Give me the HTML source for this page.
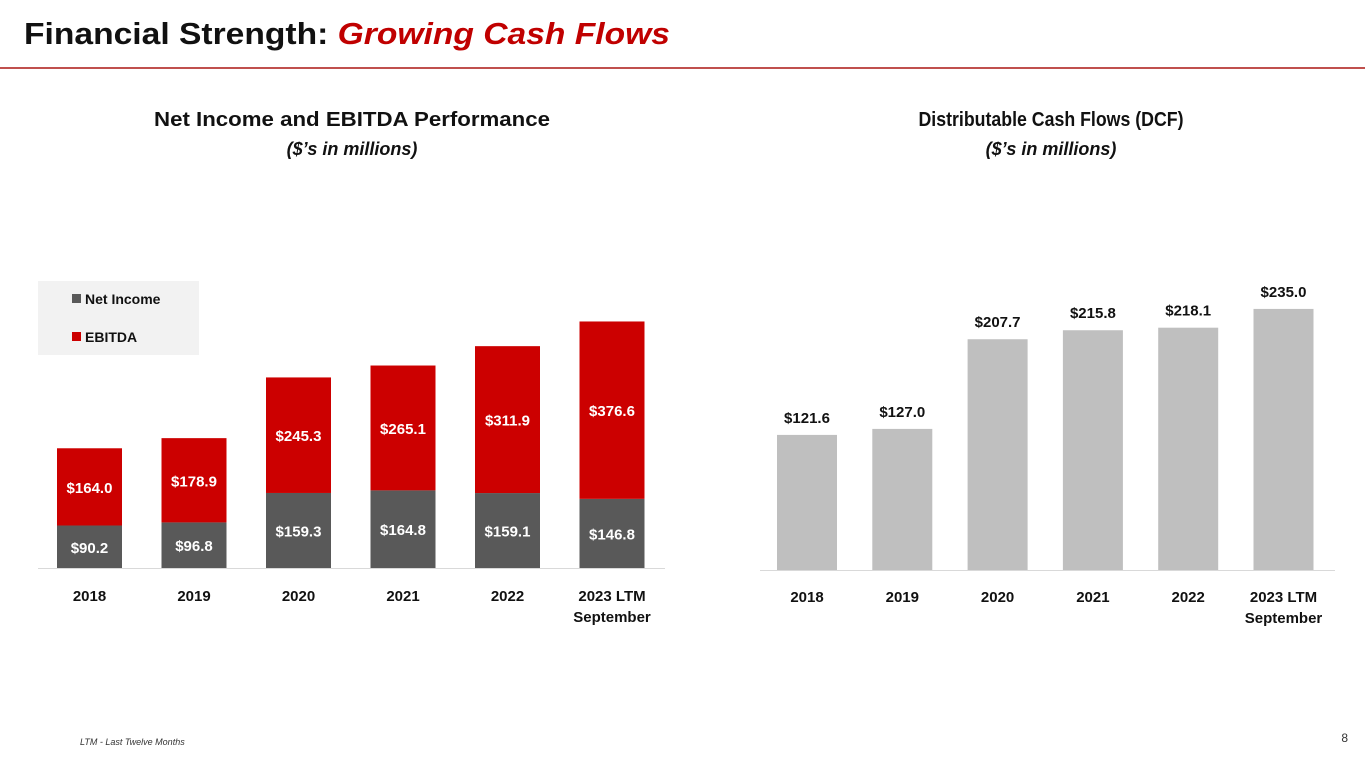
<!DOCTYPE html>
<html><head><meta charset="utf-8"><style>
body{margin:0;width:1365px;height:768px;background:#fff;overflow:hidden;font-family:"Liberation Sans",sans-serif}
svg{display:block}
</style></head><body>
<svg width="1365" height="768">
<text x="24" y="44" font-size="31" font-weight="bold" fill="#111" textLength="646" lengthAdjust="spacingAndGlyphs">Financial Strength: <tspan fill="#c00000" font-style="italic">Growing Cash Flows</tspan></text>
<rect x="0" y="67" width="1365" height="2" fill="#c0504d"/>
<text x="352" y="126" font-size="20" font-weight="bold" text-anchor="middle" fill="#111" textLength="396" lengthAdjust="spacingAndGlyphs">Net Income and EBITDA Performance</text>
<text x="352" y="155" font-size="18" font-weight="bold" font-style="italic" text-anchor="middle" fill="#111">($’s in millions)</text>
<text x="1051" y="126" font-size="20" font-weight="bold" text-anchor="middle" fill="#111" textLength="265" lengthAdjust="spacingAndGlyphs">Distributable Cash Flows (DCF)</text>
<text x="1051" y="155" font-size="18" font-weight="bold" font-style="italic" text-anchor="middle" fill="#111">($’s in millions)</text>
<rect x="38" y="281" width="161" height="74" fill="#f2f2f2"/>
<rect x="72" y="294" width="9" height="9" fill="#595959"/>
<text x="85" y="304" font-size="14" font-weight="bold" fill="#111">Net Income</text>
<rect x="72" y="332" width="9" height="9" fill="#cc0000"/>
<text x="85" y="342" font-size="14" font-weight="bold" fill="#111">EBITDA</text>
<g id="left"></g><g id="right"></g>
<text x="80" y="745" font-size="9" font-style="italic" fill="#333">LTM - Last Twelve Months</text>
<text x="1348" y="742" font-size="12" fill="#333" text-anchor="end">8</text>
</svg>
<script>
const categories=["2018","2019","2020","2021","2022","2023 LTM|September"];
const netIncome=[90.2,96.8,159.3,164.8,159.1,146.8];
const ebitda=[164.0,178.9,245.3,265.1,311.9,376.6];
const dcf=[121.6,127.0,207.7,215.8,218.1,235.0];
const NS="http://www.w3.org/2000/svg";
function mk(p,t,a){const e=document.createElementNS(NS,t);for(const k in a)e.setAttribute(k,a[k]);p.appendChild(e);return e;}
function lbl(p,x,y,s,c,fs){const t=mk(p,"text",{x:x,y:y,"font-size":fs,"font-weight":"bold","text-anchor":"middle",fill:c});t.textContent=s;return t;}
const L=document.getElementById("left");
const lBase=568,lScale=0.471,lX=i=>57+i*104.5,lW=65;
const ly=v=>lBase-v*lScale;
mk(L,"line",{x1:38,x2:665,y1:lBase+0.5,y2:lBase+0.5,stroke:"#d9d9d9"});
categories.forEach((c,i)=>{
 const x=lX(i),n=netIncome[i],e=ebitda[i];
 const r1=mk(L,"rect",{x:x,y:ly(n),width:lW,height:lBase-ly(n),fill:"#595959"});
 
 
 const r2=mk(L,"rect",{x:x,y:ly(n+e),width:lW,height:ly(n)-ly(n+e),fill:"#cc0000"});
 
 
 const t1=lbl(L,x+lW/2,(ly(n)+lBase)/2+6,"$"+n.toFixed(1),"#fff",15);
 
 
 const t2=lbl(L,x+lW/2,(ly(n)+ly(n+e))/2+6,"$"+e.toFixed(1),"#fff",15);
 
 
 c.split("|").forEach((s,j)=>{const t=lbl(L,x+lW/2,601+j*21,s,"#111",15);
  
  });
});
const R=document.getElementById("right");
const rBase=570,rScale=1.111,rX=i=>777+i*95.3,rW=60;
const ry=v=>rBase-v*rScale;
mk(R,"line",{x1:760,x2:1335,y1:rBase+0.5,y2:rBase+0.5,stroke:"#d9d9d9"});
categories.forEach((c,i)=>{
 const x=rX(i),v=dcf[i];
 const r=mk(R,"rect",{x:x,y:ry(v),width:rW,height:rBase-ry(v),fill:"#bfbfbf"});
 
 
 const t=lbl(R,x+rW/2,ry(v)-12,"$"+v.toFixed(1),"#111",15);
 
 
 c.split("|").forEach((s,j)=>{const q=lbl(R,x+rW/2,602+j*21,s,"#111",15);
  
  });
});
</script>
</body></html>
